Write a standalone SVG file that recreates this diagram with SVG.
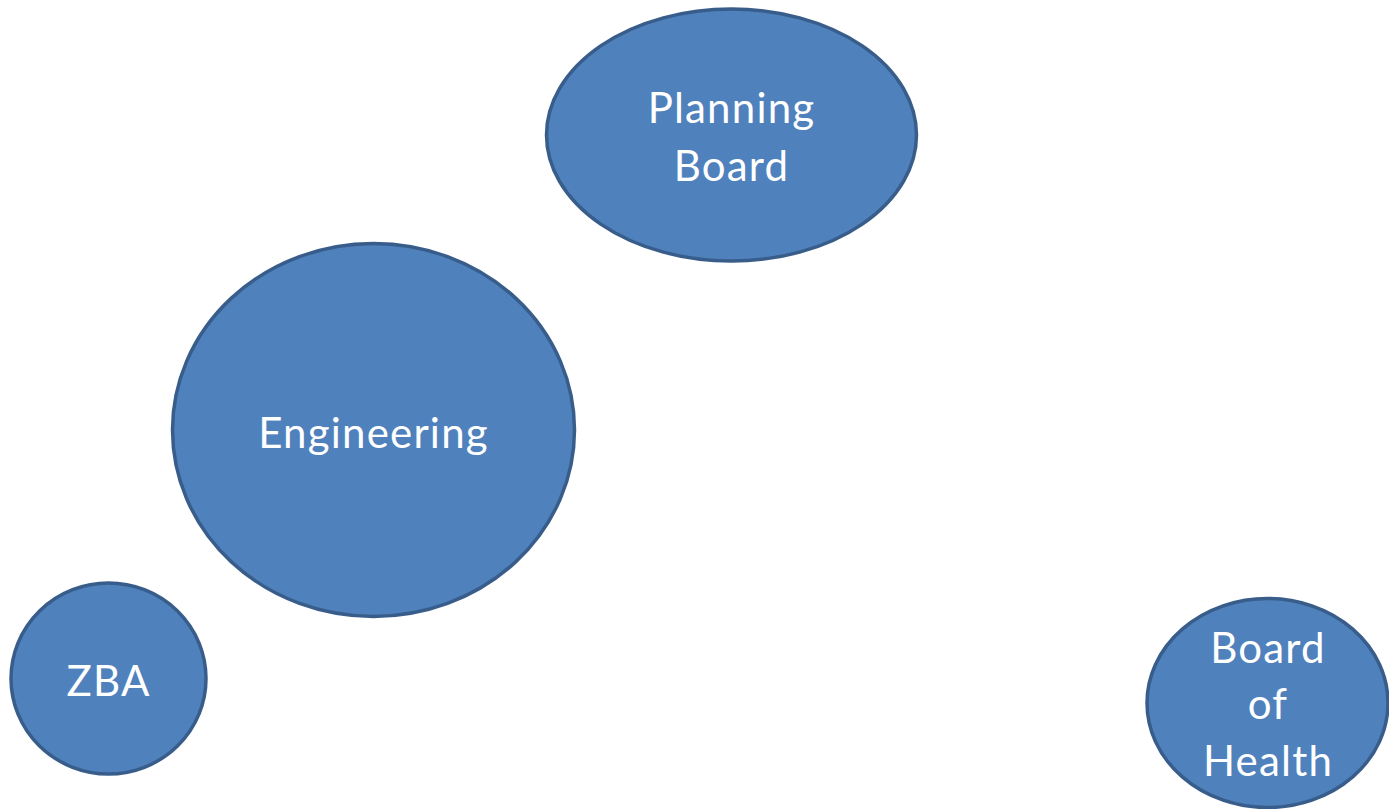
<svg xmlns="http://www.w3.org/2000/svg" width="1389" height="809" viewBox="0 0 1389 809">
  <style>
    .node { fill: #4F81BD; stroke: #385D8A; stroke-width: 3.5; }
    .label { fill: #FFFFFF; font-family: "Lato", "Open Sans", sans-serif; font-size: 42px; letter-spacing: 1.2px; text-anchor: middle; }
  </style>
  <rect width="1389" height="809" fill="#FFFFFF"/>
  <g id="connectors"></g>
  <g id="planning-board">
    <ellipse class="node" cx="731.5" cy="135" rx="185" ry="126"/>
    <text class="label" x="731.5" y="123">Planning</text>
    <text class="label" x="731.5" y="181">Board</text>
  </g>
  <g id="engineering">
    <ellipse class="node" cx="373.5" cy="430" rx="201" ry="186.5"/>
    <text class="label" x="373.5" y="448">Engineering</text>
  </g>
  <g id="zba">
    <ellipse class="node" cx="108.5" cy="678.5" rx="97.5" ry="95.5"/>
    <text class="label" x="108.5" y="696">ZBA</text>
  </g>
  <g id="board-of-health">
    <ellipse class="node" cx="1267.5" cy="703" rx="120.5" ry="104.5"/>
    <text class="label" x="1268" y="663">Board</text>
    <text class="label" x="1268" y="719">of</text>
    <text class="label" x="1268" y="776">Health</text>
  </g>
</svg>
